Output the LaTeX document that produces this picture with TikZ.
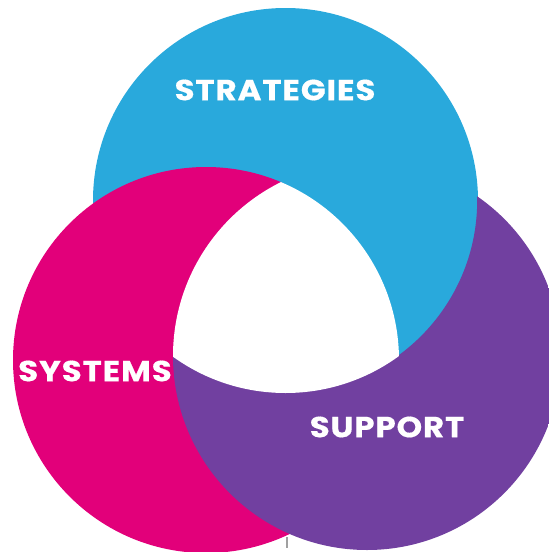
\documentclass[tikz,border=0pt]{standalone}
\usepackage{fontspec}
\setmainfont{Poppins}
\newfontfamily\lblfont[LetterSpace=3, FakeStretch=1.12, BoldFeatures={FakeBold=0.5}]{Poppins}
\definecolor{cblue}{HTML}{29A9DC}
\definecolor{cmag}{HTML}{E2007A}
\definecolor{cpur}{HTML}{7140A0}
\definecolor{cgray}{HTML}{A0A0A0}
\tikzset{
  label/.style={text=white, font=\lblfont\fontsize{29}{32}\selectfont\bfseries, inner sep=0pt, anchor=center},
  stem/.style={cgray, line width=2.2pt},
}
\begin{document}
\begin{tikzpicture}[x=1pt,y=-1pt]
\useasboundingbox (0,0) rectangle (549,552);
\coordinate (B) at (285.5,200.5);
\coordinate (M) at (206,360);
\coordinate (P) at (367,356);
\def\rB{192.5}\def\rM{193}\def\rP{194}
\begin{scope}
\clip (0,0) rectangle (549,552);
% blue disc
\fill[cblue] (B) circle[radius=\rB];
% magenta: M minus P (slightly shrunk P)
\begin{scope}
  \clip (M) circle[radius=\rM];
  \fill[cmag, even odd rule] (-20,-20) rectangle (600,600) (P) circle[radius=\rP-0.8];
\end{scope}
% purple: P minus B (slightly shrunk B)
\begin{scope}
  \clip (P) circle[radius=\rP];
  \fill[cpur, even odd rule] (-20,-20) rectangle (600,600) (B) circle[radius=\rB-0.8];
\end{scope}
% thin grey stem at the bottom (drawn before the white centre)
\coordinate (lt) at (287,537);
\coordinate (lb) at (287,548);
\draw[stem] (lt) -- (lb);
% white triple intersection
\begin{scope}
  \clip (P) circle[radius=\rP];
  \clip (M) circle[radius=\rM];
  \fill[white] (B) circle[radius=\rB];
\end{scope}
\end{scope}
\node[label] (strat) at (275,90) {STRATEGIES};
\node[label] (sys) at (95,371) {SYSTEMS};
\node[label] (sup) at (387,427) {SUPPORT};
\end{tikzpicture}
\end{document}
